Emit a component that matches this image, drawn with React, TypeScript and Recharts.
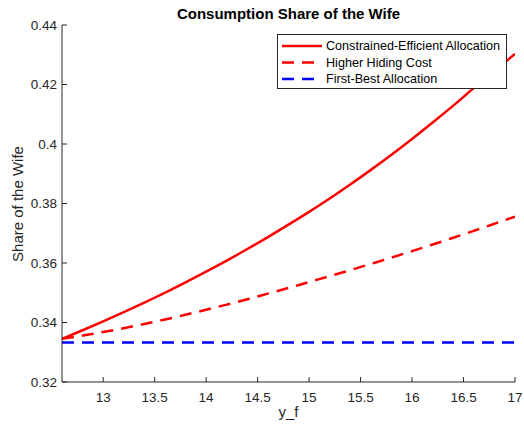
import React from 'react';
import { LineChart, Line, XAxis, YAxis } from 'recharts';

const yfValues = [12.6, 12.8, 13.0, 13.2, 13.4, 13.6, 13.8, 14.0, 14.2, 14.4, 14.6, 14.8, 15.0, 15.2, 15.4, 15.6, 15.8, 16.0, 16.2, 16.4, 16.6, 16.8, 17.0];
const constrainedShare = [0.3345, 0.3374, 0.3404, 0.3435, 0.3467, 0.35, 0.3535, 0.3571, 0.3608, 0.3647, 0.3687, 0.3729, 0.3772, 0.3817, 0.3864, 0.3913, 0.3964, 0.4017, 0.4072, 0.4129, 0.4188, 0.4245, 0.4303];
const higherHidingShare = [0.3345, 0.3356, 0.3368, 0.3381, 0.3395, 0.341, 0.3426, 0.3443, 0.346, 0.3478, 0.3497, 0.3516, 0.3536, 0.3556, 0.3576, 0.3597, 0.3618, 0.364, 0.3662, 0.3685, 0.3708, 0.3732, 0.3756];
const firstBestShare = [0.3333, 0.3333, 0.3333, 0.3333, 0.3333, 0.3333, 0.3333, 0.3333, 0.3333, 0.3333, 0.3333, 0.3333, 0.3333, 0.3333, 0.3333, 0.3333, 0.3333, 0.3333, 0.3333, 0.3333, 0.3333, 0.3333, 0.3333];

const xTicks = [13, 13.5, 14, 14.5, 15, 15.5, 16, 16.5, 17];
const yTicks = [0.32, 0.34, 0.36, 0.38, 0.4, 0.42, 0.44];
const seriesNames = ['Constrained-Efficient Allocation', 'Higher Hiding Cost', 'First-Best Allocation'];

const data = yfValues.map((x, i) => ({
  x,
  ce: constrainedShare[i],
  hh: higherHidingShare[i],
  fb: firstBestShare[i],
}));

const AX = '#262626';
const FONT = '"Liberation Sans", Arial, Helvetica, sans-serif';
const DASH = '12 8';

const BottomTick = (props: any) => {
  const { x, y, payload } = props;
  return (
    <g>
      <line x1={x} x2={x} y1={y} y2={y - 5} stroke={AX} strokeWidth={1} />
      <text x={x} y={y + 15} textAnchor="middle" dominantBaseline="central" fontSize={13.5} fontFamily={FONT} fill={AX}>
        {String(payload.value)}
      </text>
    </g>
  );
};

const TopTick = (props: any) => {
  const { x, y } = props;
  return <line x1={x} x2={x} y1={y} y2={y + 5} stroke={AX} strokeWidth={1} />;
};

const LeftTick = (props: any) => {
  const { x, y, payload } = props;
  return (
    <g>
      <line x1={x} x2={x + 5} y1={y} y2={y} stroke={AX} strokeWidth={1} />
      <text x={x - 5} y={y} textAnchor="end" dominantBaseline="central" fontSize={13.5} fontFamily={FONT} fill={AX}>
        {String(payload.value)}
      </text>
    </g>
  );
};

const RightTick = (props: any) => {
  const { x, y } = props;
  return <line x1={x} x2={x - 5} y1={y} y2={y} stroke={AX} strokeWidth={1} />;
};

export default function App() {
  return (
    <div style={{ position: 'absolute', left: 8, top: 8, width: 516, height: 417, fontFamily: FONT, overflow: 'visible' }}>
      <LineChart width={516} height={417} data={data} margin={{ top: 17, right: 9, bottom: 0, left: 0 }} style={{ overflow: 'visible' }}>
        <XAxis
          dataKey="x"
          type="number"
          domain={[12.6, 17]}
          allowDataOverflow
          ticks={xTicks}
          height={43}
          tickSize={0}
          tickMargin={0}
          tickLine={false}
          tick={BottomTick}
          axisLine={{ stroke: AX, strokeWidth: 1 }}
          interval={0}
        />
        <XAxis
          xAxisId="top"
          orientation="top"
          dataKey="x"
          type="number"
          domain={[12.6, 17]}
          allowDataOverflow
          ticks={xTicks}
          height={0}
          tickSize={0}
          tickMargin={0}
          tickLine={false}
          tick={TopTick}
          axisLine={{ stroke: AX, strokeWidth: 1 }}
          interval={0}
        />
        <YAxis
          type="number"
          domain={[0.32, 0.44]}
          allowDataOverflow
          ticks={yTicks}
          width={54}
          tickSize={0}
          tickMargin={0}
          tickLine={false}
          tick={LeftTick}
          axisLine={{ stroke: AX, strokeWidth: 1 }}
          interval={0}
        />
        <YAxis
          yAxisId="right"
          orientation="right"
          type="number"
          domain={[0.32, 0.44]}
          allowDataOverflow
          ticks={yTicks}
          width={0}
          tickSize={0}
          tickMargin={0}
          tickLine={false}
          tick={RightTick}
          axisLine={{ stroke: AX, strokeWidth: 1 }}
          interval={0}
        />
        <Line type="monotone" dataKey="fb" name={seriesNames[2]} stroke="#0000FF" strokeWidth={2.5} strokeDasharray={DASH} dot={false} activeDot={false} isAnimationActive={false} />
        <Line type="monotone" dataKey="hh" name={seriesNames[1]} stroke="#FF0000" strokeWidth={2.5} strokeDasharray={DASH} dot={false} activeDot={false} isAnimationActive={false} />
        <Line type="monotone" dataKey="ce" name={seriesNames[0]} stroke="#FF0000" strokeWidth={2.5} dot={false} activeDot={false} isAnimationActive={false} />
      </LineChart>

      <div style={{ position: 'absolute', left: 54, top: -3, width: 453, lineHeight: '18px', textAlign: 'center', fontSize: 15, fontWeight: 'bold', color: '#000' }}>
        Consumption Share of the Wife
      </div>
      <div style={{ position: 'absolute', left: 54, top: 395, width: 453, lineHeight: '18px', textAlign: 'center', fontSize: 15, color: AX }}>
        y_f
      </div>
      <div style={{ position: 'absolute', left: -90, top: 186.5, width: 200, lineHeight: '18px', textAlign: 'center', fontSize: 15, color: AX, transform: 'rotate(-90deg)' }}>
        Share of the Wife
      </div>

      <svg style={{ position: 'absolute', left: 269, top: 26 }} width={230} height={55}>
        <rect x={0.5} y={0.5} width={229} height={54} fill="#fff" stroke={AX} strokeWidth={1} />
        {[
          { color: '#FF0000', dash: undefined, y: 12 },
          { color: '#FF0000', dash: DASH, y: 28.5 },
          { color: '#0000FF', dash: DASH, y: 45 },
        ].map((r, i) => (
          <g key={i}>
            <line x1={5} x2={45} y1={r.y} y2={r.y} stroke={r.color} strokeWidth={2.5} strokeDasharray={r.dash} />
            <text x={49} y={r.y} dominantBaseline="central" fontSize={12.6} fontFamily={FONT} fill="#000">
              {seriesNames[i]}
            </text>
          </g>
        ))}
      </svg>
    </div>
  );
}
